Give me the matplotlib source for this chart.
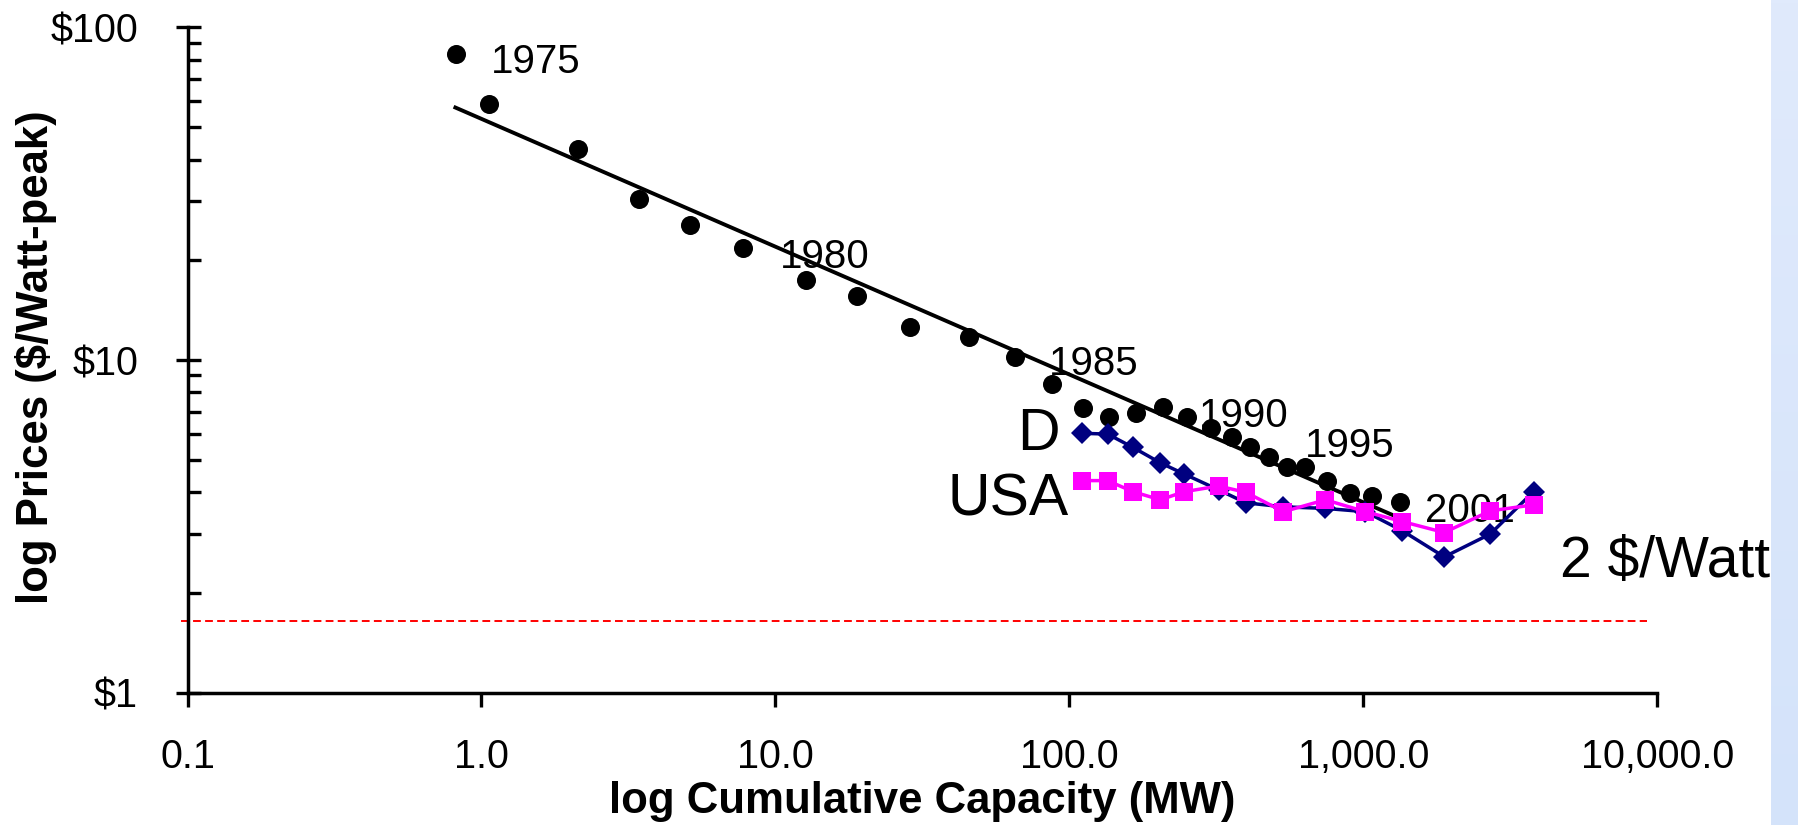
import numpy as np
import matplotlib
matplotlib.use("Agg")
import matplotlib.pyplot as plt
from matplotlib.ticker import FixedLocator, FixedFormatter, NullLocator

plt.rcParams['font.family'] = ['Liberation Sans', 'DejaVu Sans']

# ---- data ----
# world experience curve, 1975-2001
world_cap = [0.816, 1.061, 2.13, 3.435, 5.122, 7.786, 12.66, 18.95, 28.7, 45.7,
             65.1, 87.3, 111.0, 136.7, 168.5, 207.7, 251.8, 302.5, 356.7, 411.6,
             478.7, 548.8, 633.3, 750.6, 900.3, 1073, 1333]
world_price = [82.96, 58.83, 43.22, 30.37, 25.45, 21.75, 17.34, 15.57, 12.59, 11.70,
               10.23, 8.47, 7.19, 6.75, 6.94, 7.24, 6.73, 6.23, 5.86, 5.47,
               5.10, 4.78, 4.76, 4.33, 3.98, 3.90, 3.75]

# fitted experience-curve line (end points)
trend_cap = [0.804, 1302]
trend_price = [57.7, 3.375]

# Germany (D) and USA, 1988-2001
country_cap = [110.2, 134.9, 164.6, 203.8, 246, 322, 399, 535, 743, 1016,
               1355, 1885, 2704, 3793]
d_price = [6.02, 5.99, 5.46, 4.91, 4.54, 4.07, 3.72, 3.62, 3.58, 3.50,
           3.07, 2.56, 3.00, 4.02]
usa_price = [4.34, 4.34, 4.02, 3.80, 4.02, 4.18, 4.00, 3.50, 3.80, 3.50,
             3.27, 3.03, 3.52, 3.67]

# target line
target_cap = [0.095, 9200]
target_price = [1.643, 1.643]

# year annotations
year_labels = ['1975', '1980', '1985', '1990', '1995', '2001']
year_cap = [1.080, 10.38, 85.3, 275.2, 633.8, 1627]
year_price = [72.7, 18.86, 9.01, 6.30, 5.12, 3.266]

series_labels = ['D', 'USA', '2 $/Watt']
series_label_cap = [66.5, 38.4, 4667]
series_label_price = [5.36, 3.42, 2.232]
series_label_size = [42.5, 42.5, 41]

x_ticks = [0.1, 1, 10, 100, 1000, 10000]
x_ticklabels = ['0.1', '1.0', '10.0', '100.0', '1,000.0', '10,000.0']
y_ticks = [1, 10, 100]
y_ticklabels = ['$1', '$10', '$100']
y_minor = [m * d for d in (1, 10) for m in range(2, 10)]

xlabel = 'log Cumulative Capacity (MW)'
ylabel = 'log Prices ($/Watt-peak)'

# ---- figure ----
W, H = 1798, 825
fig = plt.figure(figsize=(W / 100, H / 100), dpi=100)
fig.patch.set_facecolor('white')

ax_l, ax_r, ax_b, ax_t = 187.5, 1657.3, 692.7, 27.3
ax = fig.add_axes([ax_l / W, 1 - ax_b / H, (ax_r - ax_l) / W, (ax_b - ax_t) / H])
ax.set_xscale('log')
ax.set_yscale('log')
ax.set_xlim(0.1, 10000)
ax.set_ylim(1, 100)

for s in ('top', 'right'):
    ax.spines[s].set_visible(False)
for s in ('left', 'bottom'):
    ax.spines[s].set_linewidth(2.5)

ax.xaxis.set_major_locator(FixedLocator(x_ticks))
ax.xaxis.set_major_formatter(FixedFormatter(x_ticklabels))
ax.xaxis.set_minor_locator(NullLocator())
ax.yaxis.set_major_locator(FixedLocator(y_ticks))
ax.yaxis.set_major_formatter(FixedFormatter(y_ticklabels))
ax.yaxis.set_minor_locator(FixedLocator(y_minor))

ax.tick_params(axis='x', which='major', direction='out', length=10, width=2.4,
               pad=22.6, labelsize=28.5)
ax.tick_params(axis='y', which='major', direction='inout', length=18, width=2.4,
               pad=26.6, labelsize=28.5)
ax.tick_params(axis='y', which='minor', direction='in', length=9, width=2.4)

# annotations (below data)
for t, x, y in zip(year_labels, year_cap, year_price):
    ax.text(x, y, t, fontsize=29, ha='left', va='baseline', zorder=1)
for t, x, y, fs in zip(series_labels, series_label_cap, series_label_price,
                       series_label_size):
    ax.text(x, y, t, fontsize=fs, ha='left', va='baseline', zorder=1,
            clip_on=False)

ax.plot(target_cap, target_price, color='#ff0000', lw=1.4, dashes=(4, 2.2),
        zorder=2, clip_on=False)
ax.plot(trend_cap, trend_price, color='black', lw=2.8, zorder=2,
        solid_capstyle='butt')
ax.plot(world_cap, world_price, 'o', color='black', ms=13.7, mew=0, zorder=3)
ax.plot(country_cap, d_price, '-D', color='#000080', lw=2.5, ms=11.3, mew=0,
        zorder=4)
ax.plot(country_cap, usa_price, '-s', color='#ff00ff', lw=2.5, ms=12.4, mew=0,
        zorder=5)

ax.set_xlabel(xlabel, fontsize=31.5, fontweight='bold')
ax.xaxis.label.set_va('baseline')
ax.xaxis.set_label_coords(0.5, (ax_b - 813) / (ax_b - ax_t))
ax.set_ylabel(ylabel, fontsize=31.5, fontweight='bold')
ax.yaxis.label.set_va('center')
ax.yaxis.set_label_coords((36 - ax_l) / (ax_r - ax_l), (ax_b - 357) / (ax_b - ax_t))

# light-blue strip at the right edge (slide background)
strip_x = 1771
sax = fig.add_axes([strip_x / W, 0, (W - strip_x) / W, 1], zorder=10)
top_c = np.array([224, 234, 252]) / 255
bot_c = np.array([212, 227, 250]) / 255
g = np.linspace(0, 1, 256)[:, None, None]
grad = top_c[None, None, :] * (1 - g) + bot_c[None, None, :] * g
sax.imshow(grad, aspect='auto', extent=[0, 1, 0, 1])
sax.axis('off')

fig.savefig('out.png', dpi=100, facecolor='white')
